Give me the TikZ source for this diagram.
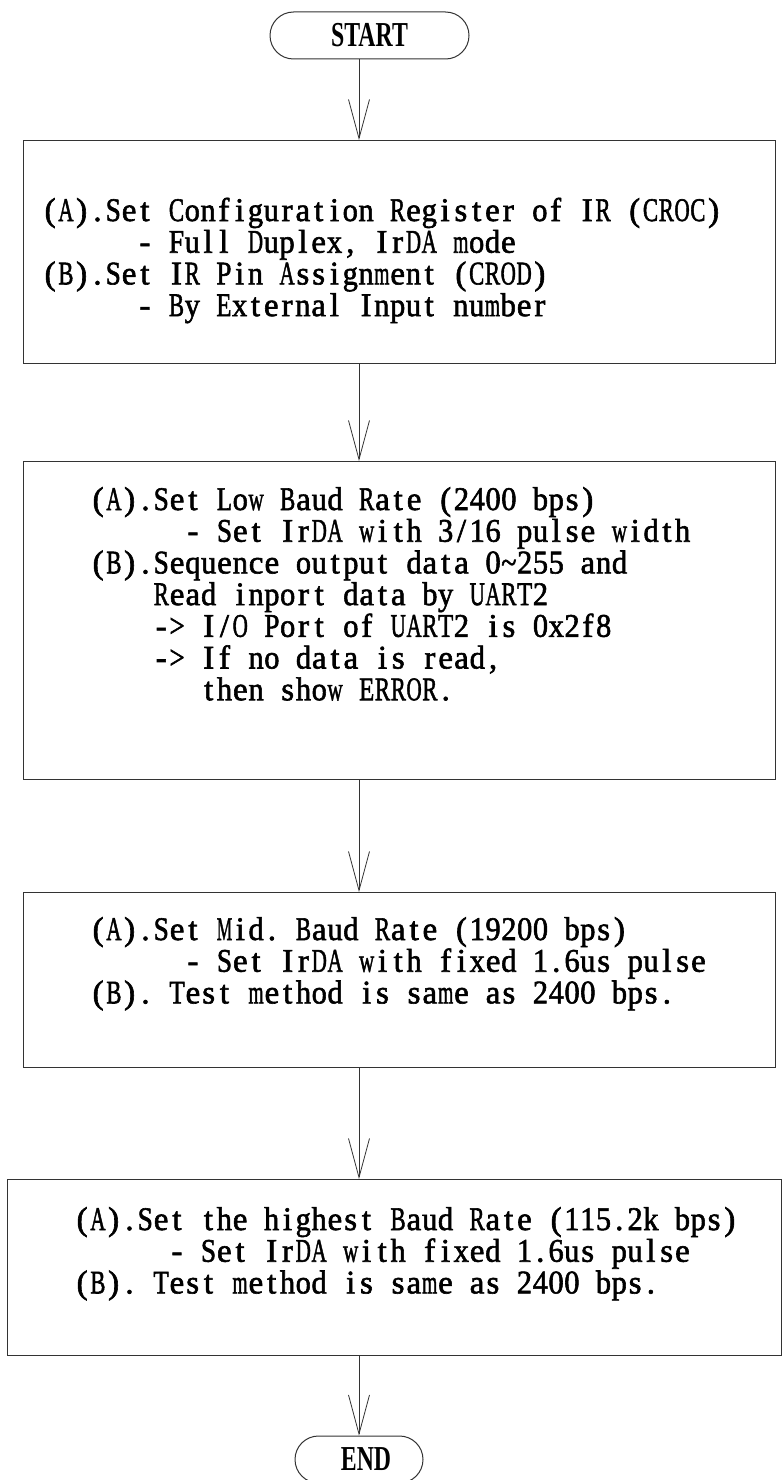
\documentclass[tikz,border=0pt]{standalone}
\usepackage{fontspec}
\newfontfamily\cellfont[FakeBold=1.8]{Liberation Serif}
\newfontfamily\termfont[FakeStretch=0.68]{Liberation Serif}
\usetikzlibrary{arrows.meta,shapes.misc}
\ExplSyntaxOn
\dim_new:N \l_cellw_dim
\dim_set:Nn \l_cellw_dim {15.8pt}
\dim_new:N \l_cellmax_dim
\dim_set:Nn \l_cellmax_dim {15.2pt}
\box_new:N \l_cellg_box
\cs_new_protected:Npn \cellglyph #1
  {
    \hbox_set:Nn \l_cellg_box {#1}
    \dim_compare:nNnT { \box_wd:N \l_cellg_box } > { \l_cellmax_dim }
      {
        \box_scale:Nnn \l_cellg_box
          { \fp_eval:n { \dim_to_fp:n {\l_cellmax_dim} / \dim_to_fp:n { \box_wd:N \l_cellg_box } } }
          { 1 }
      }
    \hbox_to_wd:nn { \l_cellw_dim } { \hfil \box_use:N \l_cellg_box \hfil }
  }
\cs_new_protected:Npn \monoline #1 #2
  {
    \hbox:n
      {
        \skip_horizontal:n { #1 \l_cellw_dim }
        \str_map_inline:nn {#2} { \cellglyph {##1} }
      }
  }
\ExplSyntaxOff
\newcommand\textlines[1]{\vtop{\lineskiplimit=-100pt\lineskip=0pt\baselineskip=31.7pt #1}}
\begin{document}
\begin{tikzpicture}[x=1pt,y=-1pt,
  box/.style={draw=black!80,line width=1pt,rectangle,inner sep=0pt,anchor=north west},
  txt/.style={inner sep=0pt,anchor=base west,font=\cellfont\fontsize{33}{31.7}\selectfont},
  term/.style={draw=black!80,line width=1pt,rounded rectangle,inner sep=0pt,
    font=\termfont\bfseries\fontsize{35}{35}\selectfont},
  arr/.style={draw=black!80,line width=0.8pt,line join=miter,-{Straight Barb[length=39pt,width=21pt,line width=0.8pt]}}]
\useasboundingbox[fill=white] (0,0) rectangle (783,1480);
\coordinate (ax) at (359,0);
% terminals
\node[term,minimum width=199pt,minimum height=47pt] (start) at (369.5,35.5) {START};
\node[term,minimum width=128pt,minimum height=47pt] (end) at (359,1459.5) {\hspace*{14pt}END};
% boxes
\node[box,minimum width=752pt,minimum height=223pt] (b1) at (23,140) {};
\node[box,minimum width=752pt,minimum height=318pt] (b2) at (23,461) {};
\node[box,minimum width=752pt,minimum height=175pt] (b3) at (23,892) {};
\node[box,minimum width=774pt,minimum height=176pt] (b4) at (7,1179) {};
% texts
\node[txt] (t1) at (42,221) {\textlines{%
\monoline{0}{(A).Set Configuration Register of IR (CROC)}
\monoline{6}{- Full Duplex, IrDA mode}
\monoline{0}{(B).Set IR Pin Assignment (CROD)}
\monoline{6}{- By External Input number}}};
\node[txt] (t2) at (90,510) {\textlines{%
\monoline{0}{(A).Set Low Baud Rate (2400 bps)}
\monoline{6}{- Set IrDA with 3/16 pulse width}
\monoline{0}{(B).Sequence output data 0~255 and}
\monoline{4}{Read inport data by UART2}
\monoline{4}{-> I/O Port of UART2 is 0x2f8}
\monoline{4}{-> If no data is read,}
\monoline{7}{then show ERROR.}}};
\node[txt] (t3) at (90,940) {\textlines{%
\monoline{0}{(A).Set Mid. Baud Rate (19200 bps)}
\monoline{6}{- Set IrDA with fixed 1.6us pulse}
\monoline{0}{(B). Test method is same as 2400 bps.}}};
\node[txt] (t4) at (74,1230) {\textlines{%
\monoline{0}{(A).Set the highest Baud Rate (115.2k bps)}
\monoline{6}{- Set IrDA with fixed 1.6us pulse}
\monoline{0}{(B). Test method is same as 2400 bps.}}};
% connectors
\draw[arr] (start.south -| ax) -- (b1.north -| ax);
\draw[arr] (b1.south -| ax) -- (b2.north -| ax);
\draw[arr] (b2.south -| ax) -- (b3.north -| ax);
\draw[arr] (b3.south -| ax) -- (b4.north -| ax);
\draw[arr] (b4.south -| ax) -- (end.north -| ax);
\end{tikzpicture}
\end{document}
